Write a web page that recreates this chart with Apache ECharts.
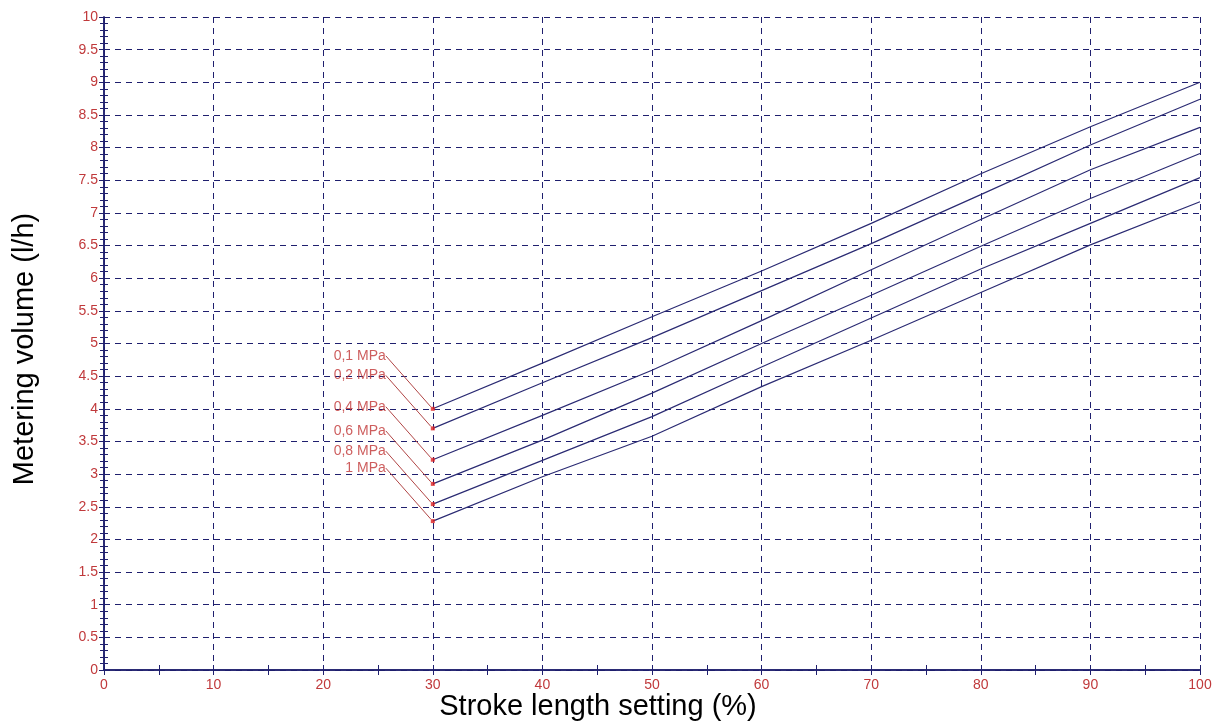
<!DOCTYPE html>
<html>
<head>
<meta charset="utf-8">
<script src="https://cdn.jsdelivr.net/npm/echarts@6/dist/echarts.min.js"></script>
<style>
  html, body { margin: 0; padding: 0; background: #fff; }
  #chart { width: 1216px; height: 724px; }
</style>
</head>
<body>
<div id="chart"></div>
<script>
// stroke length setting (%)
const strokeX = [30, 40, 50, 60, 70, 80, 90, 100]
// metering volume (l/h) per back pressure
const pressureNames = ['0,1 MPa', '0,2 MPa', '0,4 MPa', '0,6 MPa', '0,8 MPa', '1 MPa']
const vol01 = [4.0, 4.70, 5.41, 6.11, 6.84, 7.60, 8.32, 9.0]
const vol02 = [3.7, 4.40, 5.09, 5.81, 6.53, 7.28, 8.04, 8.74]
const vol04 = [3.22, 3.90, 4.59, 5.35, 6.13, 6.90, 7.66, 8.31]
const vol06 = [2.85, 3.52, 4.24, 5.00, 5.74, 6.49, 7.22, 7.91]
const vol08 = [2.54, 3.21, 3.88, 4.64, 5.39, 6.14, 6.84, 7.54]
const vol10 = [2.28, 2.96, 3.58, 4.34, 5.05, 5.78, 6.51, 7.17]
const volumes = [vol01, vol02, vol04, vol06, vol08, vol10]

const navy = '#1f1f6e'
const tickRed = '#c0393b'

const chart = echarts.init(document.getElementById('chart'))

// main frame axis: line + inward major ticks
const frameAxis = (extra) => Object.assign({
  type: 'value',
  axisLine: { show: true, lineStyle: { color: navy, width: 1.5 } },
  axisTick: { show: true, inside: true, length: 5, lineStyle: { color: navy } },
  axisLabel: { show: false },
  splitLine: { show: false }
}, extra)

// extra axis used only for the small inward ticks
const tickAxis = (extra, len) => Object.assign({
  type: 'value',
  axisLine: { show: false },
  axisTick: { show: true, inside: true, length: len, lineStyle: { color: navy } },
  axisLabel: { show: false },
  splitLine: { show: false }
}, extra)

const lineSeries = volumes.map((vals, i) => ({
  name: pressureNames[i],
  type: 'line',
  data: vals.map((v, j) => [strokeX[j], v]),
  symbol: 'none',
  lineStyle: { color: '#2b2b73', width: 1.2 },
  z: 3
}))

const startSeries = {
  type: 'scatter',
  data: volumes.map((vals, i) => ({ name: pressureNames[i], value: [strokeX[0], vals[0]] })),
  symbol: 'rect',
  symbolSize: 4,
  itemStyle: { color: '#e02020' },
  label: {
    show: true,
    position: 'left',
    distance: 0,
    formatter: '{b}',
    color: '#c03535',
    fontFamily: 'Liberation Sans',
    fontSize: 14
  },
  labelLayout: { dx: -45, dy: -53 },
  labelLine: { show: true, lineStyle: { color: '#b04545', width: 1 } },
  z: 5
}

const gridLine = { show: true, lineStyle: { color: navy, type: [6, 5], width: 1 } }
const tickFont = { color: tickRed, fontFamily: 'Liberation Sans', fontSize: 14 }

chart.setOption({
  animation: false,
  grid: { left: 104, top: 17, right: 16, bottom: 54 },
  xAxis: [
    frameAxis({ min: 0, max: 100, interval: 10, axisLabel: Object.assign({ margin: 8 }, tickFont), splitLine: gridLine }),
    frameAxis({ min: 0, max: 100, interval: 10, position: 'top' }),
    tickAxis({ min: 0, max: 100, interval: 5, position: 'bottom' }, 5),
    tickAxis({ min: 0, max: 100, interval: 5, position: 'top' }, 5)
  ],
  yAxis: [
    frameAxis({ min: 0, max: 10, interval: 0.5, axisLabel: Object.assign({ margin: 6 }, tickFont), splitLine: gridLine }),
    frameAxis({ min: 0, max: 10, interval: 0.5, position: 'right' }),
    tickAxis({ min: 0, max: 10, interval: 0.1, position: 'left' }, 4),
    tickAxis({ min: 0, max: 10, interval: 0.1, position: 'right' }, 4)
  ],
  graphic: [
    {
      type: 'text', x: 598, y: 707,
      style: {
        text: 'Stroke length setting (%)', fill: '#000', font: '29px "Liberation Sans"',
        textAlign: 'center', textVerticalAlign: 'middle'
      }
    },
    {
      type: 'text', x: 25, y: 349, rotation: Math.PI / 2,
      style: {
        text: 'Metering volume (l/h)', fill: '#000', font: '29px "Liberation Sans"',
        textAlign: 'center', textVerticalAlign: 'middle'
      }
    }
  ],
  series: lineSeries.concat([startSeries])
})
</script>
</body>
</html>
